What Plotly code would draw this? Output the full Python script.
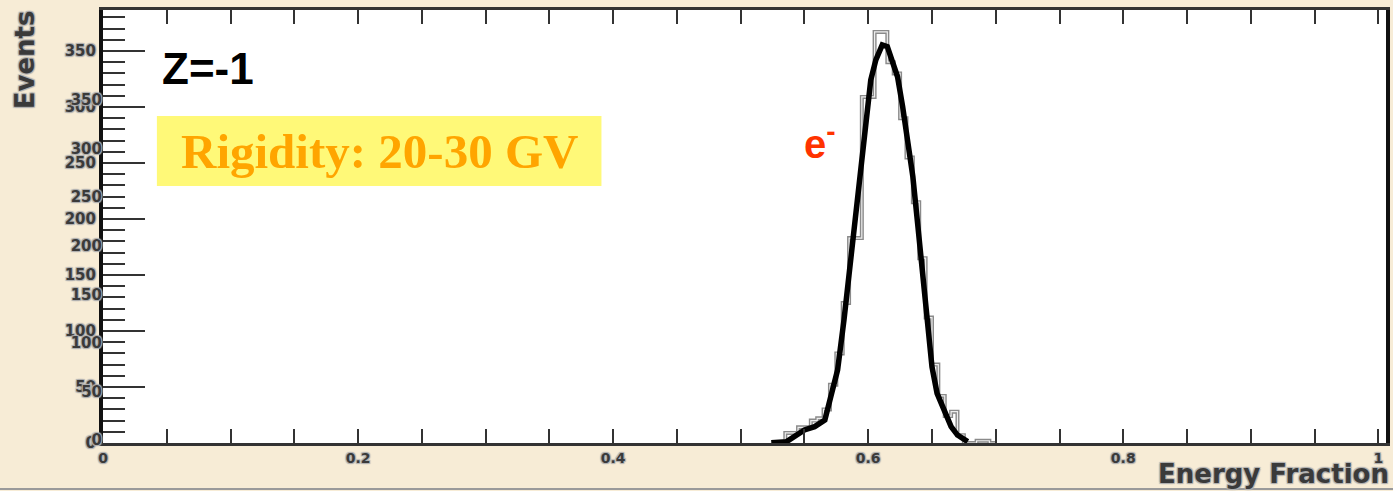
import plotly.graph_objects as go

# Energy-fraction histogram for Z=-1 tracks, rigidity 20-30 GV
bin_edges = [0.525, 0.530, 0.535, 0.540, 0.545, 0.550, 0.555, 0.560, 0.565, 0.570,
             0.575, 0.580, 0.585, 0.590, 0.595, 0.600, 0.605, 0.610, 0.615, 0.620,
             0.625, 0.630, 0.635, 0.640, 0.645, 0.650, 0.655, 0.660, 0.665, 0.670,
             0.675, 0.680, 0.685, 0.690, 0.695, 0.700]
bin_counts = [1, 1, 9, 9, 14, 14, 20, 22, 30, 52,
              80, 125, 183, 183, 309, 309, 367, 367, 340, 330,
              290, 255, 215, 165, 112, 70, 42, 24, 28, 7,
              0, 0, 2, 2, 0]

# Smoothed shape drawn as a thick line over the histogram
curve_x = [0.524, 0.536, 0.550, 0.558, 0.566, 0.571, 0.576, 0.581, 0.587, 0.591,
           0.594, 0.598, 0.602, 0.606, 0.611, 0.615, 0.619, 0.623, 0.627, 0.631,
           0.635, 0.639, 0.643, 0.647, 0.650, 0.654, 0.660, 0.665, 0.670, 0.678]
curve_y = [0.3, 1.2, 11.6, 14.6, 20.5, 41.4, 65.2, 109.8, 169.4, 211,
           246.7, 288.4, 324, 342, 355.4, 353.9, 342, 327, 300.3, 270.5,
           237.8, 193, 145.5, 103.8, 68, 44.3, 26.5, 14.6, 7.1, 1.2]

y_ticks = [0, 50, 100, 150, 200, 250, 300, 350]
x_ticks = [0, 0.2, 0.4, 0.6, 0.8, 1]
x_tick_text = ["0", "0.2", "0.4", "0.6", "0.8", "1"]

step_x = bin_edges
step_y = bin_counts + [bin_counts[-1]]

PAPER = "#f7ecd6"
AXIS = "#333333"
LABEL_FONT = "DejaVu Sans, Liberation Sans, Arial"
halo = "1px 1px 1px #b0b0b0, -1px -1px 1px #b0b0b0, 1px -1px 1px #b0b0b0, -1px 1px 1px #b0b0b0"

fig = go.Figure()
fig.add_trace(go.Scatter(x=step_x, y=step_y, mode="lines", line=dict(shape="hv", color="#8a8a8a", width=4),
                         hoverinfo="skip", showlegend=False))
fig.add_trace(go.Scatter(x=step_x, y=step_y, mode="lines", line=dict(shape="hv", color="#eeeeee", width=1.2),
                         hoverinfo="skip", showlegend=False))
fig.add_trace(go.Scatter(x=curve_x, y=curve_y, mode="lines", line=dict(color="#000000", width=5.5),
                         hoverinfo="skip", showlegend=False))
# second label column on the left (ghost scale)
fig.add_trace(go.Scatter(x=[None], y=[None], yaxis="y2", showlegend=False, hoverinfo="skip"))

tick_font = dict(family=LABEL_FONT, size=15, color="#3a3a3a", weight="bold", shadow=halo)

fig.update_layout(
    width=1393, height=491,
    margin=dict(l=103, r=3, t=10, b=48),
    paper_bgcolor=PAPER, plot_bgcolor="#ffffff",
    xaxis=dict(range=[0, 1.006], tickvals=x_ticks, ticktext=x_tick_text,
               ticks="inside", ticklen=14, tickwidth=2, tickcolor=AXIS,
               minor=dict(dtick=0.05, tick0=0, ticks="inside", ticklen=8, tickwidth=2, tickcolor=AXIS),
               showline=True, linecolor=AXIS, linewidth=3, mirror="allticks",
               showgrid=False, zeroline=False,
               tickfont=dict(family=LABEL_FONT, size=14, color="#3a3a3a", weight="bold", shadow=halo)),
    yaxis=dict(range=[0, 386.6], tickvals=y_ticks,
               ticks="inside", ticklen=42, tickwidth=2, tickcolor=AXIS,
               minor=dict(dtick=10, tick0=0, ticks="inside", ticklen=22, tickwidth=2, tickcolor=AXIS),
               showline=True, linecolor="#111111", linewidth=4, mirror=True,
               showgrid=False, zeroline=False, tickfont=tick_font),
    yaxis2=dict(range=[-3.1, 442.8], overlaying="y", side="left", tickvals=y_ticks,
                ticks="", showline=False, showgrid=False, zeroline=False,
                tickfont=tick_font),
    shapes=[
        dict(type="rect", xref="paper", yref="paper", x0=0.042, x1=0.3885, y0=0.5935, y1=0.755,
             fillcolor="#fff978", line=dict(width=0), layer="above"),
        dict(type="line", xref="paper", yref="paper", x0=-0.09, x1=1.01, y0=-0.106, y1=-0.106,
             line=dict(color="#9a9a9a", width=2)),
    ],
    annotations=[
        dict(text="Z=-1", xref="paper", yref="paper", x=0.0443, y=0.866, xanchor="left", yanchor="middle",
             showarrow=False, font=dict(family="Liberation Sans, Arial", size=44, color="#000000", weight="bold")),
        dict(text="Rigidity: 20-30 GV", xref="paper", yref="paper", x=0.2152, y=0.674,
             xanchor="center", yanchor="middle", showarrow=False,
             font=dict(family="Liberation Serif, DejaVu Serif", size=49, color="#ffa500", weight="bold")),
        dict(text="e<sup>-</sup>", xref="paper", yref="paper", x=0.545, y=0.698, xanchor="left", yanchor="middle",
             showarrow=False, font=dict(family="Liberation Sans, Arial", size=40, color="#ff3300", weight="bold")),
        dict(text="Events", xref="paper", yref="paper", x=-0.0606, y=0.8845, textangle=-90,
             xanchor="center", yanchor="middle", showarrow=False,
             font=dict(family=LABEL_FONT, size=26, color="#3a3a3a", weight="bold", shadow=halo)),
        dict(text="Energy Fraction", xref="paper", yref="paper", x=0.821, y=-0.0716,
             xanchor="left", yanchor="middle", showarrow=False,
             font=dict(family=LABEL_FONT, size=26, color="#3a3a3a", weight="bold", shadow=halo)),
    ],
)

fig.write_html("out.html")
